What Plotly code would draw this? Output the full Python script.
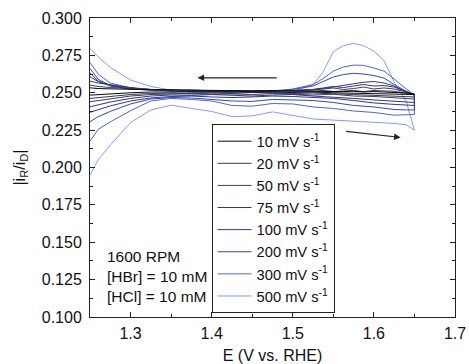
import plotly.graph_objects as go

# Potential grids (V vs. RHE)
E_fwd = [1.25, 1.26, 1.275, 1.30, 1.325, 1.35, 1.375, 1.40, 1.425, 1.45, 1.475, 1.50,
         1.525, 1.55, 1.575, 1.60, 1.625, 1.64, 1.65]
E_rev = [1.65, 1.64, 1.625, 1.6125, 1.60, 1.5875, 1.575, 1.5625, 1.55, 1.5375, 1.525,
         1.50, 1.475, 1.45, 1.425, 1.40, 1.375, 1.35, 1.325, 1.30, 1.275, 1.26, 1.25]

labels = ["10 mV s<sup>-1</sup>", "20 mV s<sup>-1</sup>", "50 mV s<sup>-1</sup>",
          "75 mV s<sup>-1</sup>", "100 mV s<sup>-1</sup>", "200 mV s<sup>-1</sup>",
          "300 mV s<sup>-1</sup>", "500 mV s<sup>-1</sup>"]
colors = ["#0a0a0a", "#3a3a52", "#3c3c68", "#33337e", "#2b3990", "#3447b4", "#4a66d8", "#7f9cff"]

# |iR/iD| forward (lower) branches
fwd_10 = [0.2484, 0.2488, 0.2495, 0.2500, 0.2505, 0.2505, 0.2508, 0.2505, 0.2508, 0.2505,
          0.2505, 0.2502, 0.2505, 0.2500, 0.2498, 0.2495, 0.2492, 0.2490, 0.2488]
fwd_20 = [0.2462, 0.2468, 0.2478, 0.2488, 0.2495, 0.2498, 0.2492, 0.2498, 0.2495, 0.2502,
          0.2498, 0.2495, 0.2498, 0.2492, 0.2488, 0.2482, 0.2478, 0.2475, 0.2472]
fwd_50 = [0.2440, 0.2448, 0.2462, 0.2478, 0.2488, 0.2490, 0.2495, 0.2488, 0.2492, 0.2488,
          0.2495, 0.2490, 0.2485, 0.2490, 0.2478, 0.2475, 0.2465, 0.2460, 0.2458]
fwd_75 = [0.2406, 0.2418, 0.2438, 0.2462, 0.2478, 0.2485, 0.2482, 0.2488, 0.2482, 0.2478,
          0.2485, 0.2488, 0.2478, 0.2472, 0.2462, 0.2452, 0.2442, 0.2438, 0.2435]
fwd_100 = [0.2369, 0.2385, 0.2412, 0.2445, 0.2465, 0.2475, 0.2478, 0.2472, 0.2468, 0.2472,
           0.2478, 0.2475, 0.2468, 0.2462, 0.2448, 0.2432, 0.2422, 0.2418, 0.2415]
fwd_200 = [0.2306, 0.2340, 0.2375, 0.2425, 0.2458, 0.2468, 0.2465, 0.2455, 0.2445, 0.2442,
           0.2455, 0.2452, 0.2448, 0.2435, 0.2415, 0.2405, 0.2388, 0.2385, 0.2385]
fwd_300 = [0.2176, 0.2255, 0.2305, 0.2380, 0.2445, 0.2462, 0.2455, 0.2445, 0.2415, 0.2410,
           0.2428, 0.2425, 0.2405, 0.2395, 0.2378, 0.2368, 0.2350, 0.2352, 0.2355]
fwd_500 = [0.1949, 0.2050, 0.2150, 0.2300, 0.2385, 0.2417, 0.2395, 0.2375, 0.2340, 0.2345,
           0.2372, 0.2350, 0.2325, 0.2317, 0.2310, 0.2302, 0.2295, 0.2285, 0.2250]

# |iR/iD| reverse (upper) branches
rev_10 = [0.2492, 0.2498, 0.2502, 0.2505, 0.2508, 0.2505, 0.2510, 0.2508, 0.2510, 0.2512,
          0.2510, 0.2512, 0.2515, 0.2512, 0.2515, 0.2518, 0.2518, 0.2520, 0.2520, 0.2522,
          0.2525, 0.2528, 0.2533]
rev_20 = [0.2488, 0.2495, 0.2510, 0.2512, 0.2515, 0.2508, 0.2515, 0.2512, 0.2508, 0.2515,
          0.2510, 0.2512, 0.2515, 0.2510, 0.2515, 0.2512, 0.2518, 0.2515, 0.2520, 0.2528,
          0.2535, 0.2542, 0.2551]
rev_50 = [0.2485, 0.2505, 0.2525, 0.2532, 0.2525, 0.2538, 0.2528, 0.2522, 0.2532, 0.2525,
          0.2518, 0.2512, 0.2515, 0.2510, 0.2515, 0.2510, 0.2515, 0.2518, 0.2522, 0.2535,
          0.2552, 0.2565, 0.2578]
rev_75 = [0.2482, 0.2508, 0.2538, 0.2548, 0.2545, 0.2555, 0.2545, 0.2535, 0.2542, 0.2530,
          0.2522, 0.2515, 0.2512, 0.2508, 0.2515, 0.2510, 0.2512, 0.2515, 0.2522, 0.2532,
          0.2552, 0.2575, 0.2607]
rev_100 = [0.2485, 0.2505, 0.2545, 0.2565, 0.2575, 0.2570, 0.2560, 0.2548, 0.2540, 0.2528,
           0.2522, 0.2515, 0.2508, 0.2512, 0.2508, 0.2512, 0.2508, 0.2512, 0.2518, 0.2525,
           0.2545, 0.2578, 0.2634]
rev_200 = [0.2488, 0.2510, 0.2555, 0.2598, 0.2615, 0.2625, 0.2630, 0.2622, 0.2605, 0.2575,
           0.2545, 0.2522, 0.2508, 0.2512, 0.2505, 0.2510, 0.2508, 0.2512, 0.2518, 0.2525,
           0.2548, 0.2590, 0.2663]
rev_300 = [0.2485, 0.2525, 0.2592, 0.2645, 0.2665, 0.2683, 0.2685, 0.2672, 0.2645, 0.2595,
           0.2555, 0.2525, 0.2512, 0.2505, 0.2512, 0.2508, 0.2512, 0.2515, 0.2520, 0.2532,
           0.2565, 0.2625, 0.2703]
rev_500 = [0.2250, 0.2440, 0.2570, 0.2715, 0.2778, 0.2815, 0.2830, 0.2815, 0.2775, 0.2640,
           0.2555, 0.2508, 0.2502, 0.2508, 0.2502, 0.2498, 0.2505, 0.2518, 0.2542, 0.2585,
           0.2670, 0.2740, 0.2797]

fwd_all = [fwd_10, fwd_20, fwd_50, fwd_75, fwd_100, fwd_200, fwd_300, fwd_500]
rev_all = [rev_10, rev_20, rev_50, rev_75, rev_100, rev_200, rev_300, rev_500]

conditions = "1600 RPM<br>[HBr] = 10 mM<br>[HCl] = 10 mM"

FONT = "Liberation Sans, Arial, sans-serif"

fig = go.Figure()
# draw light colours first so dark ones sit on top, legend order kept by legendrank
for i in reversed(range(len(labels))):
    fig.add_trace(go.Scatter(
        x=E_fwd + E_rev, y=fwd_all[i] + rev_all[i], mode="lines", name=labels[i],
        line=dict(color=colors[i], width=1), legendrank=i + 1,
    ))

fig.add_annotation(x=1.3826, y=0.260, ax=1.482, ay=0.260, xref="x", yref="y",
                   axref="x", ayref="y", showarrow=True, arrowhead=2, arrowsize=1.1,
                   arrowwidth=1.2, arrowcolor="#222222", text="")
fig.add_annotation(x=1.633, y=0.2201, ax=1.564, ay=0.2243, xref="x", yref="y",
                   axref="x", ayref="y", showarrow=True, arrowhead=2, arrowsize=1.1,
                   arrowwidth=1.2, arrowcolor="#222222", text="")
fig.add_annotation(x=0.04, y=0.238, xref="paper", yref="paper", xanchor="left",
                   yanchor="top", align="left", showarrow=False, text=conditions,
                   font=dict(family=FONT, size=15.5, color="#111111"))

axis_common = dict(showline=True, linecolor="#222222", linewidth=1, mirror="ticks",
                   ticks="inside", ticklen=5, tickwidth=1, tickcolor="#222222",
                   showgrid=False, zeroline=False,
                   tickfont=dict(family=FONT, size=16, color="#111111"),
                   title_font=dict(family=FONT, size=16, color="#111111"))

fig.update_xaxes(range=[1.25, 1.7], dtick=0.1, tick0=1.3, tickformat=".1f",
                 minor=dict(ticks="inside", ticklen=3, dtick=0.05, tick0=1.25,
                            tickcolor="#222222", showgrid=False),
                 title_text="E (V vs. RHE)", title_standoff=10, ticklabelstandoff=2,
                 **axis_common)
fig.update_yaxes(range=[0.1, 0.3], dtick=0.025, tick0=0.1, tickformat=".3f",
                 minor=dict(ticks="inside", ticklen=3, dtick=0.0125, tick0=0.1,
                            tickcolor="#222222", showgrid=False),
                 title_text="|i<sub>R</sub>/i<sub>D</sub>|", title_standoff=12,
                 ticklabelstandoff=4, **axis_common)

fig.update_layout(
    width=469, height=364,
    margin=dict(l=90, r=14, t=18, b=47, autoexpand=False),
    paper_bgcolor="white", plot_bgcolor="white",
    showlegend=True,
    legend=dict(x=0.333, y=0.645, xanchor="left", yanchor="top",
                bgcolor="white", bordercolor="#222222", borderwidth=1,
                font=dict(family=FONT, size=14.7, color="#111111"),
                itemwidth=34, tracegroupgap=0, traceorder="normal"),
)

fig.write_html("out.html")
